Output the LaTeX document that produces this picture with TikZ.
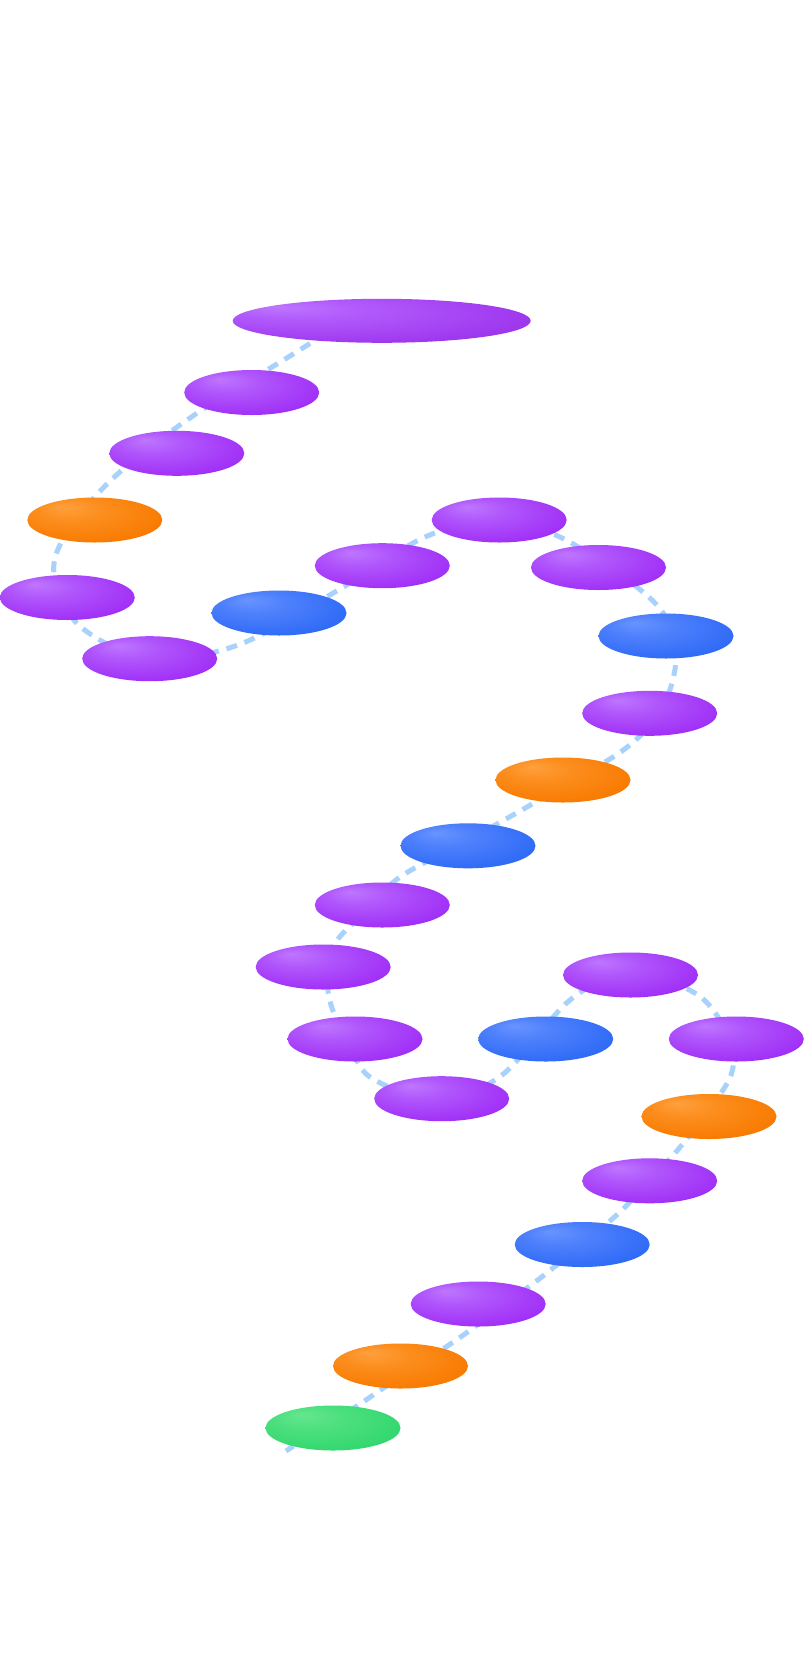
\documentclass[tikz,border=0pt]{standalone}
\usetikzlibrary{shapes.geometric}
\definecolor{purpHL}{RGB}{190,118,255}
\definecolor{purpMid}{RGB}{176,86,252}
\definecolor{purpMain}{RGB}{160,46,246}
\definecolor{purpDark}{RGB}{150,40,232}
\definecolor{bigMid}{RGB}{178,92,252}
\definecolor{bigMain}{RGB}{160,58,240}
\definecolor{bigDark}{RGB}{134,36,204}
\definecolor{blueHL}{RGB}{104,148,255}
\definecolor{blueMid}{RGB}{78,128,252}
\definecolor{blueMain}{RGB}{46,106,246}
\definecolor{blueDark}{RGB}{42,100,240}
\definecolor{oranHL}{RGB}{255,160,62}
\definecolor{oranMid}{RGB}{252,142,30}
\definecolor{oranMain}{RGB}{248,122,0}
\definecolor{oranDark}{RGB}{244,118,0}
\definecolor{greenHL}{RGB}{102,230,144}
\definecolor{greenMid}{RGB}{78,224,128}
\definecolor{greenMain}{RGB}{50,215,110}
\definecolor{greenDark}{RGB}{48,210,106}
\definecolor{trailblue}{RGB}{168,210,252}
\pgfdeclareradialshading{purpshade}{\pgfpoint{-12bp}{15bp}}{color(0bp)=(purpHL); color(12bp)=(purpMid); color(32bp)=(purpMain); color(42bp)=(purpMain); color(50bp)=(purpDark)}
\pgfdeclareradialshading{blueshade}{\pgfpoint{-12bp}{15bp}}{color(0bp)=(blueHL); color(12bp)=(blueMid); color(32bp)=(blueMain); color(42bp)=(blueMain); color(50bp)=(blueDark)}
\pgfdeclareradialshading{oranshade}{\pgfpoint{-12bp}{15bp}}{color(0bp)=(oranHL); color(12bp)=(oranMid); color(32bp)=(oranMain); color(42bp)=(oranMain); color(50bp)=(oranDark)}
\pgfdeclareradialshading{greenshade}{\pgfpoint{-12bp}{15bp}}{color(0bp)=(greenHL); color(12bp)=(greenMid); color(32bp)=(greenMain); color(42bp)=(greenMain); color(50bp)=(greenDark)}
\pgfdeclareradialshading{bigshade}{\pgfpoint{-18bp}{16bp}}{color(0bp)=(purpHL); color(10bp)=(bigMid); color(30bp)=(bigMain); color(50bp)=(bigDark)}
\tikzset{
  pill/.style={ellipse, inner sep=0pt, minimum width=135pt, minimum height=45pt},
  purp/.style={pill, shading=purpshade},
  bluep/.style={pill, shading=blueshade},
  oran/.style={pill, shading=oranshade},
  grn/.style={pill, shading=greenshade},
  trail/.style={draw=trailblue, line width=5pt, dash pattern=on 11pt off 8pt}
}
\begin{document}
\begin{tikzpicture}[x=1pt,y=-1pt]
\useasboundingbox (0,0) rectangle (804,1665);
\fill[white] (0,0) rectangle (804,1665);
\draw[trail] plot[smooth, tension=0.55] coordinates {
 (342,323) (290,356) (187,420) (108,483) (60,545) (56,584) (82,628)
 (150,659) (238,645) (335,592) (425,537) (492,523) (560,537)
 (652,600) (676,650) (663,707) (626,748) (563,786) (513,815)
 (468,840) (400,877) (370,908) (338,939) (327,968) (331,1005)
 (348,1040) (370,1077) (437,1100) (502,1075) (570,1000) (630,973)
 (698,995) (730,1040) (731,1075) (705,1115) (676,1152) (649,1181)
 (620,1212) (582,1244) (543,1276) (505,1304) (462,1336) (417,1366)
 (379,1391) (357,1406) (321,1428) (286,1451)};
\node[pill, minimum width=298pt, minimum height=44pt, shading=bigshade] (n1) at (381.7,320.8) {};
\node[purp]  (n2)  at (251.7,392.5) {};
\node[purp]  (n3)  at (176.8,453.3) {};
\node[oran]  (n4)  at (94.8,520) {};
\node[purp]  (n5)  at (67.3,597.5) {};
\node[purp]  (n6)  at (149.7,658.7) {};
\node[bluep] (n7)  at (279,613) {};
\node[purp]  (n8)  at (382.3,565.7) {};
\node[purp]  (n9)  at (499.2,520) {};
\node[purp]  (n10) at (598.5,567.5) {};
\node[bluep] (n11) at (666,636) {};
\node[purp]  (n12) at (649.7,713.3) {};
\node[oran]  (n13) at (563,780) {};
\node[bluep] (n14) at (468,845.8) {};
\node[purp]  (n15) at (382.3,905) {};
\node[purp]  (n16) at (323.2,967) {};
\node[purp]  (n17) at (355,1039) {};
\node[purp]  (n18) at (441.7,1098.7) {};
\node[bluep] (n19) at (545.7,1039) {};
\node[purp]  (n20) at (630.5,975) {};
\node[purp]  (n21) at (736.3,1039) {};
\node[oran]  (n22) at (709,1116.5) {};
\node[purp]  (n23) at (649.7,1180.8) {};
\node[bluep] (n24) at (582.2,1244.5) {};
\node[purp]  (n25) at (478.2,1304) {};
\node[oran]  (n26) at (400.5,1366) {};
\node[grn]   (n27) at (333,1428) {};
\end{tikzpicture}
\end{document}
